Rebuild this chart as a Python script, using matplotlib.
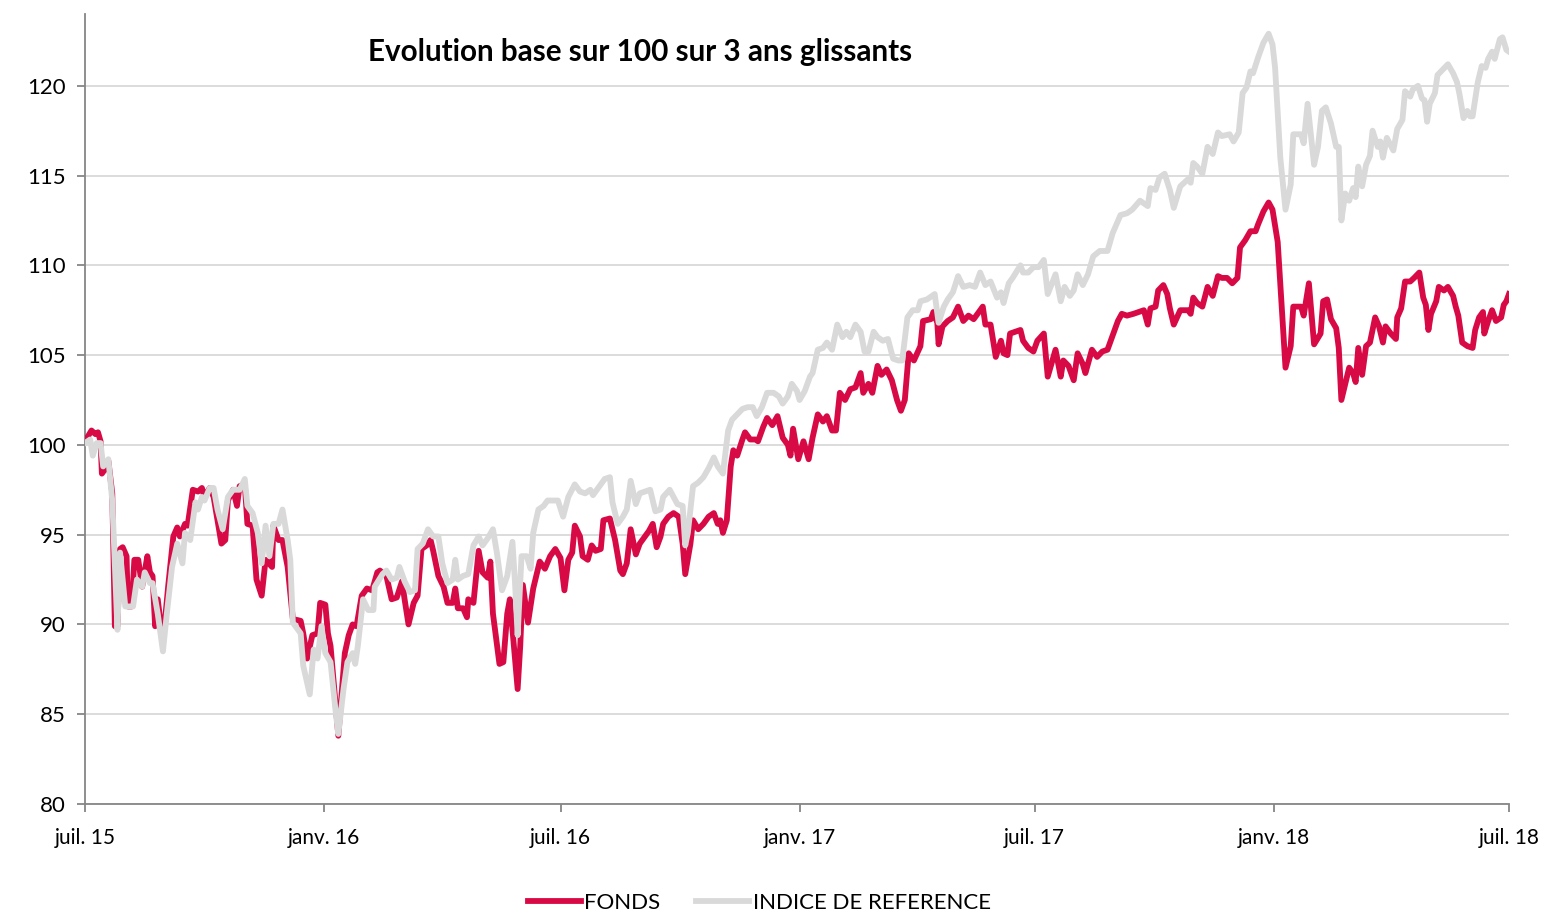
import numpy as np
from matplotlib import pyplot as plt

plt.rcParams['font.family'] = ['Lato', 'DejaVu Sans']

name = "out"
start = np.datetime64('2015-07-01')

# FONDS : jours depuis le 01/07/2015, valeurs base 100
fonds_days = [0, 5, 8, 10, 12, 13, 15, 18, 21, 23, 25, 27, 29, 32, 33, 36, 38, 41, 44, 48,
              50, 52, 54, 56, 60, 64, 68, 71, 73, 77, 79, 83, 87, 90, 92, 96, 99, 105, 108, 110,
              114, 117, 119, 123, 125, 129, 132, 136, 139, 144, 145, 149, 152, 156, 160, 166, 168, 171, 175, 179,
              181, 185, 187, 189, 195, 200, 203, 206, 209, 213, 217, 221, 225, 227, 232, 236, 240, 244, 246, 249,
              253, 256, 259, 263, 266, 268, 272, 276, 279, 283, 285, 287, 291, 294, 295, 299, 303, 306, 310, 312,
              314, 319, 322, 325, 327, 333, 335, 337, 341, 345, 350, 354, 358, 362, 366, 369, 372, 375, 377, 381,
              383, 387, 390, 393, 397, 399, 404, 408, 412, 414, 417, 420, 424, 427, 431, 434, 437, 440, 443, 445,
              449, 453, 457, 460, 462, 466, 468, 472, 476, 480, 484, 487, 489, 491, 494, 497, 499, 502, 506, 508,
              512, 516, 518, 522, 525, 529, 533, 537, 541, 543, 545, 549, 553, 557, 560, 564, 568, 571, 575, 578,
              581, 585, 589, 593, 597, 599, 603, 606, 610, 613, 617, 621, 625, 628, 631, 634, 638, 643, 645, 651,
              653, 656, 657, 660, 664, 668, 672, 676, 680, 684, 687, 691, 693, 697, 701, 705, 707, 710, 712, 720,
              722, 726, 730, 733, 738, 741, 747, 751, 753, 757, 761, 764, 768, 770, 775, 779, 783, 787, 791, 795,
              798, 802, 807, 811, 815, 818, 820, 824, 826, 830, 833, 835, 838, 843, 849, 851, 853, 856, 860, 864,
              868, 872, 875, 879, 883, 887, 889, 893, 897, 901, 903, 907, 911, 914, 918, 922, 924, 928, 930, 936,
              938, 942, 946, 951, 953, 956, 959, 963, 965, 967, 970, 973, 976, 978, 980, 983, 986, 989, 993, 996,
              999, 1001, 1005, 1009, 1010, 1013, 1016, 1020, 1023, 1027, 1030, 1032, 1034, 1036, 1040, 1042, 1046, 1049, 1053, 1055,
              1057, 1060, 1064, 1068, 1070, 1073, 1076, 1077, 1080, 1083, 1086, 1090, 1092, 1094, 1096]
fonds_values = [100.2, 100.8, 100.6, 100.7, 100.2, 98.4, 98.6, 99.1, 97.3, 89.9, 89.9, 94.2, 94.3, 93.8, 91.0, 91.0, 93.6, 93.6, 92.1, 93.8,
                92.9, 92.7, 89.9, 91.4, 89.0, 92.1, 94.9, 95.4, 94.9, 95.6, 95.5, 97.5, 97.4, 97.6, 97.1, 97.6, 97.1, 94.5, 94.7, 96.9,
                97.5, 96.6, 97.7, 97.8, 95.6, 95.5, 92.5, 91.6, 93.6, 93.2, 95.5, 94.7, 94.7, 93.2, 90.3, 90.2, 89.5, 88.1, 89.4, 89.5,
                91.2, 91.1, 89.5, 88.8, 83.8, 88.4, 89.4, 90.0, 89.9, 91.6, 92.0, 91.9, 92.9, 93.0, 92.7, 91.4, 91.5, 92.4, 91.4, 90.0,
                91.2, 91.6, 94.2, 94.4, 94.7, 94.1, 92.7, 92.1, 91.2, 91.2, 92.0, 90.9, 90.9, 90.4, 91.4, 91.2, 94.1, 92.9, 92.6, 93.5,
                90.6, 87.8, 87.9, 90.6, 91.4, 86.4, 88.8, 92.2, 90.1, 92.0, 93.5, 93.1, 93.8, 94.2, 93.7, 91.9, 93.6, 94.0, 95.5, 94.9,
                93.8, 93.6, 94.4, 94.1, 94.2, 95.8, 95.9, 94.7, 93.0, 92.8, 93.4, 95.3, 93.9, 94.5, 94.9, 95.2, 95.6, 94.3, 94.9, 95.6,
                96.0, 96.2, 96.0, 94.5, 92.8, 94.5, 95.8, 95.3, 95.6, 96.0, 96.2, 95.6, 95.8, 95.1, 95.8, 98.8, 99.7, 99.4, 100.3, 100.7,
                100.3, 100.3, 100.2, 101.0, 101.5, 101.1, 101.6, 100.4, 100.0, 99.4, 100.9, 99.2, 100.2, 99.2, 100.4, 101.7, 101.3, 101.6, 100.8, 100.8,
                102.9, 102.5, 103.1, 103.2, 104.0, 102.9, 103.4, 102.9, 104.4, 103.9, 104.2, 103.6, 102.5, 101.9, 102.5, 105.1, 104.7, 105.5, 106.9, 107.0,
                107.4, 106.8, 105.6, 106.6, 106.9, 107.1, 107.7, 106.9, 107.2, 107.0, 107.3, 107.7, 106.7, 106.7, 104.9, 105.8, 105.1, 105.0, 106.2, 106.4,
                105.8, 105.4, 105.2, 105.8, 106.2, 103.8, 105.3, 103.8, 104.7, 104.4, 103.6, 105.1, 104.5, 104.0, 105.3, 104.9, 105.2, 105.3, 106.1, 106.9,
                107.3, 107.2, 107.3, 107.4, 107.5, 106.7, 107.6, 107.7, 108.6, 108.9, 108.4, 107.6, 106.7, 107.5, 107.5, 107.3, 108.2, 107.9, 107.7, 108.8,
                108.3, 109.4, 109.3, 109.3, 109.0, 109.3, 111.0, 111.4, 111.9, 111.9, 112.3, 113.0, 113.5, 113.1, 111.3, 106.6, 104.3, 105.5, 107.7, 107.7,
                107.2, 109.0, 105.6, 106.2, 108.0, 108.1, 107.0, 106.5, 105.4, 102.5, 103.4, 104.3, 104.0, 103.5, 105.4, 103.9, 105.5, 105.7, 107.1, 106.6,
                105.7, 106.6, 106.2, 105.9, 107.1, 107.6, 109.1, 109.1, 109.3, 109.6, 108.2, 107.8, 106.4, 107.3, 108.0, 108.8, 108.6, 108.8, 108.3, 107.7,
                107.2, 105.7, 105.5, 105.4, 106.4, 107.1, 107.4, 106.2, 106.9, 107.5, 106.9, 107.1, 107.8, 108.0, 108.4]

# INDICE DE REFERENCE
indice_days = [0, 4, 6, 9, 12, 14, 18, 21, 25, 27, 31, 35, 37, 40, 44, 46, 50, 52, 56, 60,
               63, 67, 71, 75, 77, 81, 85, 87, 90, 92, 96, 99, 102, 106, 110, 114, 119, 123, 125, 129,
               133, 136, 139, 142, 145, 149, 152, 156, 158, 160, 166, 168, 173, 176, 179, 182, 185, 189, 193, 195,
               199, 202, 206, 208, 210, 214, 218, 222, 223, 229, 232, 236, 240, 242, 246, 250, 254, 256, 260, 264,
               268, 272, 275, 279, 283, 285, 287, 291, 295, 299, 303, 306, 310, 314, 317, 321, 325, 329, 331, 333,
               336, 340, 343, 345, 349, 353, 356, 360, 364, 368, 372, 377, 381, 385, 389, 391, 394, 398, 400, 404,
               406, 410, 414, 417, 420, 424, 427, 431, 435, 439, 443, 445, 450, 456, 460, 462, 464, 468, 472, 476,
               480, 484, 487, 491, 495, 498, 502, 506, 510, 514, 517, 521, 525, 530, 534, 537, 541, 544, 548, 550,
               554, 558, 560, 564, 568, 571, 575, 579, 583, 586, 589, 593, 597, 600, 603, 607, 610, 614, 618, 622,
               626, 629, 633, 637, 641, 643, 648, 652, 654, 657, 661, 664, 668, 672, 676, 681, 685, 689, 693, 697,
               702, 705, 707, 711, 714, 720, 722, 726, 730, 734, 738, 741, 747, 751, 754, 758, 761, 764, 768, 772,
               776, 781, 787, 791, 797, 802, 806, 812, 818, 820, 824, 827, 831, 835, 838, 843, 849, 851, 853, 856,
               860, 864, 868, 872, 875, 881, 884, 888, 891, 894, 897, 899, 903, 907, 911, 914, 916, 920, 924, 928,
               930, 936, 938, 941, 946, 949, 952, 955, 959, 963, 965, 967, 970, 973, 976, 978, 980, 983, 986, 989,
               991, 995, 997, 999, 1002, 1007, 1010, 1014, 1016, 1020, 1022, 1026, 1029, 1031, 1033, 1035, 1039, 1041, 1045, 1049,
               1053, 1056, 1058, 1061, 1064, 1066, 1068, 1072, 1075, 1078, 1080, 1083, 1085, 1089, 1091, 1094, 1096]
indice_values = [100.1, 100.3, 99.4, 100.1, 100.1, 98.8, 99.2, 96.9, 89.7, 94.0, 91.0, 91.0, 91.0, 92.5, 92.1, 92.9, 92.3, 92.3, 90.6, 88.5,
                 90.6, 93.2, 94.5, 93.4, 95.1, 94.7, 96.8, 96.4, 97.1, 96.9, 97.6, 97.6, 96.4, 95.3, 97.1, 97.5, 97.5, 98.1, 96.6, 96.2,
                 95.1, 93.4, 95.5, 93.8, 95.6, 95.6, 96.4, 94.7, 93.6, 90.1, 89.5, 87.7, 86.1, 88.6, 88.1, 89.9, 88.4, 87.9, 85.1, 83.9,
                 86.4, 87.9, 88.4, 87.8, 88.8, 91.4, 90.8, 90.8, 92.1, 92.8, 93.0, 92.5, 92.6, 93.2, 92.4, 91.8, 91.9, 94.2, 94.5, 95.3,
                 94.9, 94.9, 93.4, 92.3, 92.5, 93.6, 92.5, 92.7, 92.8, 94.4, 94.9, 94.4, 94.8, 95.3, 94.0, 91.9, 92.7, 94.6, 92.3, 89.4,
                 93.8, 93.8, 93.1, 95.1, 96.4, 96.6, 96.9, 96.9, 96.9, 96.0, 97.1, 97.8, 97.4, 97.3, 97.5, 97.2, 97.5, 97.9, 98.1, 98.2,
                 96.8, 95.6, 96.0, 96.4, 98.0, 96.7, 97.3, 97.4, 97.5, 96.3, 96.4, 97.1, 97.5, 96.7, 96.6, 94.4, 95.1, 97.7, 97.9, 98.2,
                 98.7, 99.3, 98.8, 98.4, 100.8, 101.4, 101.7, 102.0, 102.1, 102.1, 101.6, 102.1, 102.9, 102.9, 102.7, 102.3, 102.7, 103.4, 103.0, 102.5,
                 103.0, 103.8, 104.0, 105.3, 105.4, 105.7, 105.3, 106.7, 106.0, 106.3, 106.0, 106.7, 106.3, 105.2, 105.2, 106.3, 106.0, 105.8, 105.9, 104.8,
                 104.7, 104.7, 107.1, 107.5, 107.5, 108.0, 108.1, 108.3, 108.4, 106.8, 107.7, 108.1, 108.5, 109.4, 108.8, 108.9, 108.8, 109.6, 108.9, 109.1,
                 108.2, 108.5, 107.9, 109.0, 109.3, 110.0, 109.6, 109.6, 109.9, 109.9, 110.3, 108.4, 109.5, 108.0, 108.8, 108.3, 108.6, 109.5, 108.9, 109.5,
                 110.5, 110.8, 110.8, 111.8, 112.8, 112.9, 113.1, 113.6, 113.3, 114.3, 114.2, 114.9, 115.1, 114.2, 113.2, 114.4, 114.8, 114.6, 115.7, 115.5,
                 115.1, 116.6, 116.2, 117.4, 117.2, 117.3, 116.9, 117.4, 119.6, 119.9, 120.8, 120.7, 121.6, 122.4, 122.9, 122.3, 121.0, 116.0, 113.1, 114.5,
                 117.3, 117.3, 116.8, 119.0, 115.6, 116.6, 118.6, 118.8, 117.9, 116.6, 116.6, 112.5, 114.0, 113.6, 114.3, 113.8, 115.5, 114.4, 115.6, 116.1,
                 117.5, 116.6, 116.9, 116.0, 117.1, 116.4, 117.6, 118.1, 119.7, 119.4, 119.8, 120.0, 119.3, 119.2, 118.0, 119.0, 119.6, 120.6, 120.9, 121.2,
                 120.7, 120.2, 119.5, 118.2, 118.6, 118.3, 118.3, 120.2, 121.1, 121.0, 121.5, 121.9, 121.5, 122.6, 122.7, 122.0, 121.9]

tick_dates = ['2015-07-01', '2016-01-01', '2016-07-01', '2017-01-01', '2017-07-01', '2018-01-01', '2018-07-01']
tick_labels = ['juil. 15', 'janv. 16', 'juil. 16', 'janv. 17', 'juil. 17', 'janv. 18', 'juil. 18']

fonds_x = start + np.array(fonds_days).astype('timedelta64[D]')
indice_x = start + np.array(indice_days).astype('timedelta64[D]')

fig = plt.figure(figsize=(15.65, 9.14), dpi=100)
ax = fig.add_axes([0.0543, 0.1204, 0.9099, 0.8643])

ax.plot(fonds_x, fonds_values, color='#d80a45', linewidth=4.2, label='FONDS',
        solid_joinstyle='round', zorder=3)
ax.plot(indice_x, indice_values, color='#d9d9d9', linewidth=4.2, label='INDICE DE REFERENCE',
        solid_joinstyle='round', zorder=4)

ax.set_xlim(np.datetime64('2015-07-01'), np.datetime64('2018-07-01'))
ax.set_ylim(80, 124)
ax.set_yticks(range(80, 121, 5))
ax.set_xticks(np.array(tick_dates, dtype='datetime64[D]'))
ax.set_xticklabels(tick_labels)

ax.grid(axis='y', color='#d9d9d9', linewidth=1.3, zorder=0)
ax.set_axisbelow(True)
for side in ['top', 'right']:
    ax.spines[side].set_visible(False)
for side in ['left', 'bottom']:
    ax.spines[side].set_color('#868686')
    ax.spines[side].set_linewidth(1.3)
ax.tick_params(axis='both', colors='#868686', width=1.3, length=6, labelcolor='black')
ax.tick_params(axis='y', labelsize=16, pad=8)
ax.tick_params(axis='x', labelsize=15, pad=11)

fig.text(640 / 1565, 1 - 52 / 914, 'Evolution base sur 100 sur 3 ans glissants',
         ha='center', va='center', fontsize=21.3, fontweight='bold')

fig.legend(loc='lower center', bbox_to_anchor=(0.485, -0.021), ncol=2, frameon=False,
           fontsize=16, handlelength=2.4, handletextpad=0.15, columnspacing=1.6)

fig.savefig(name + ".png", dpi=100)
